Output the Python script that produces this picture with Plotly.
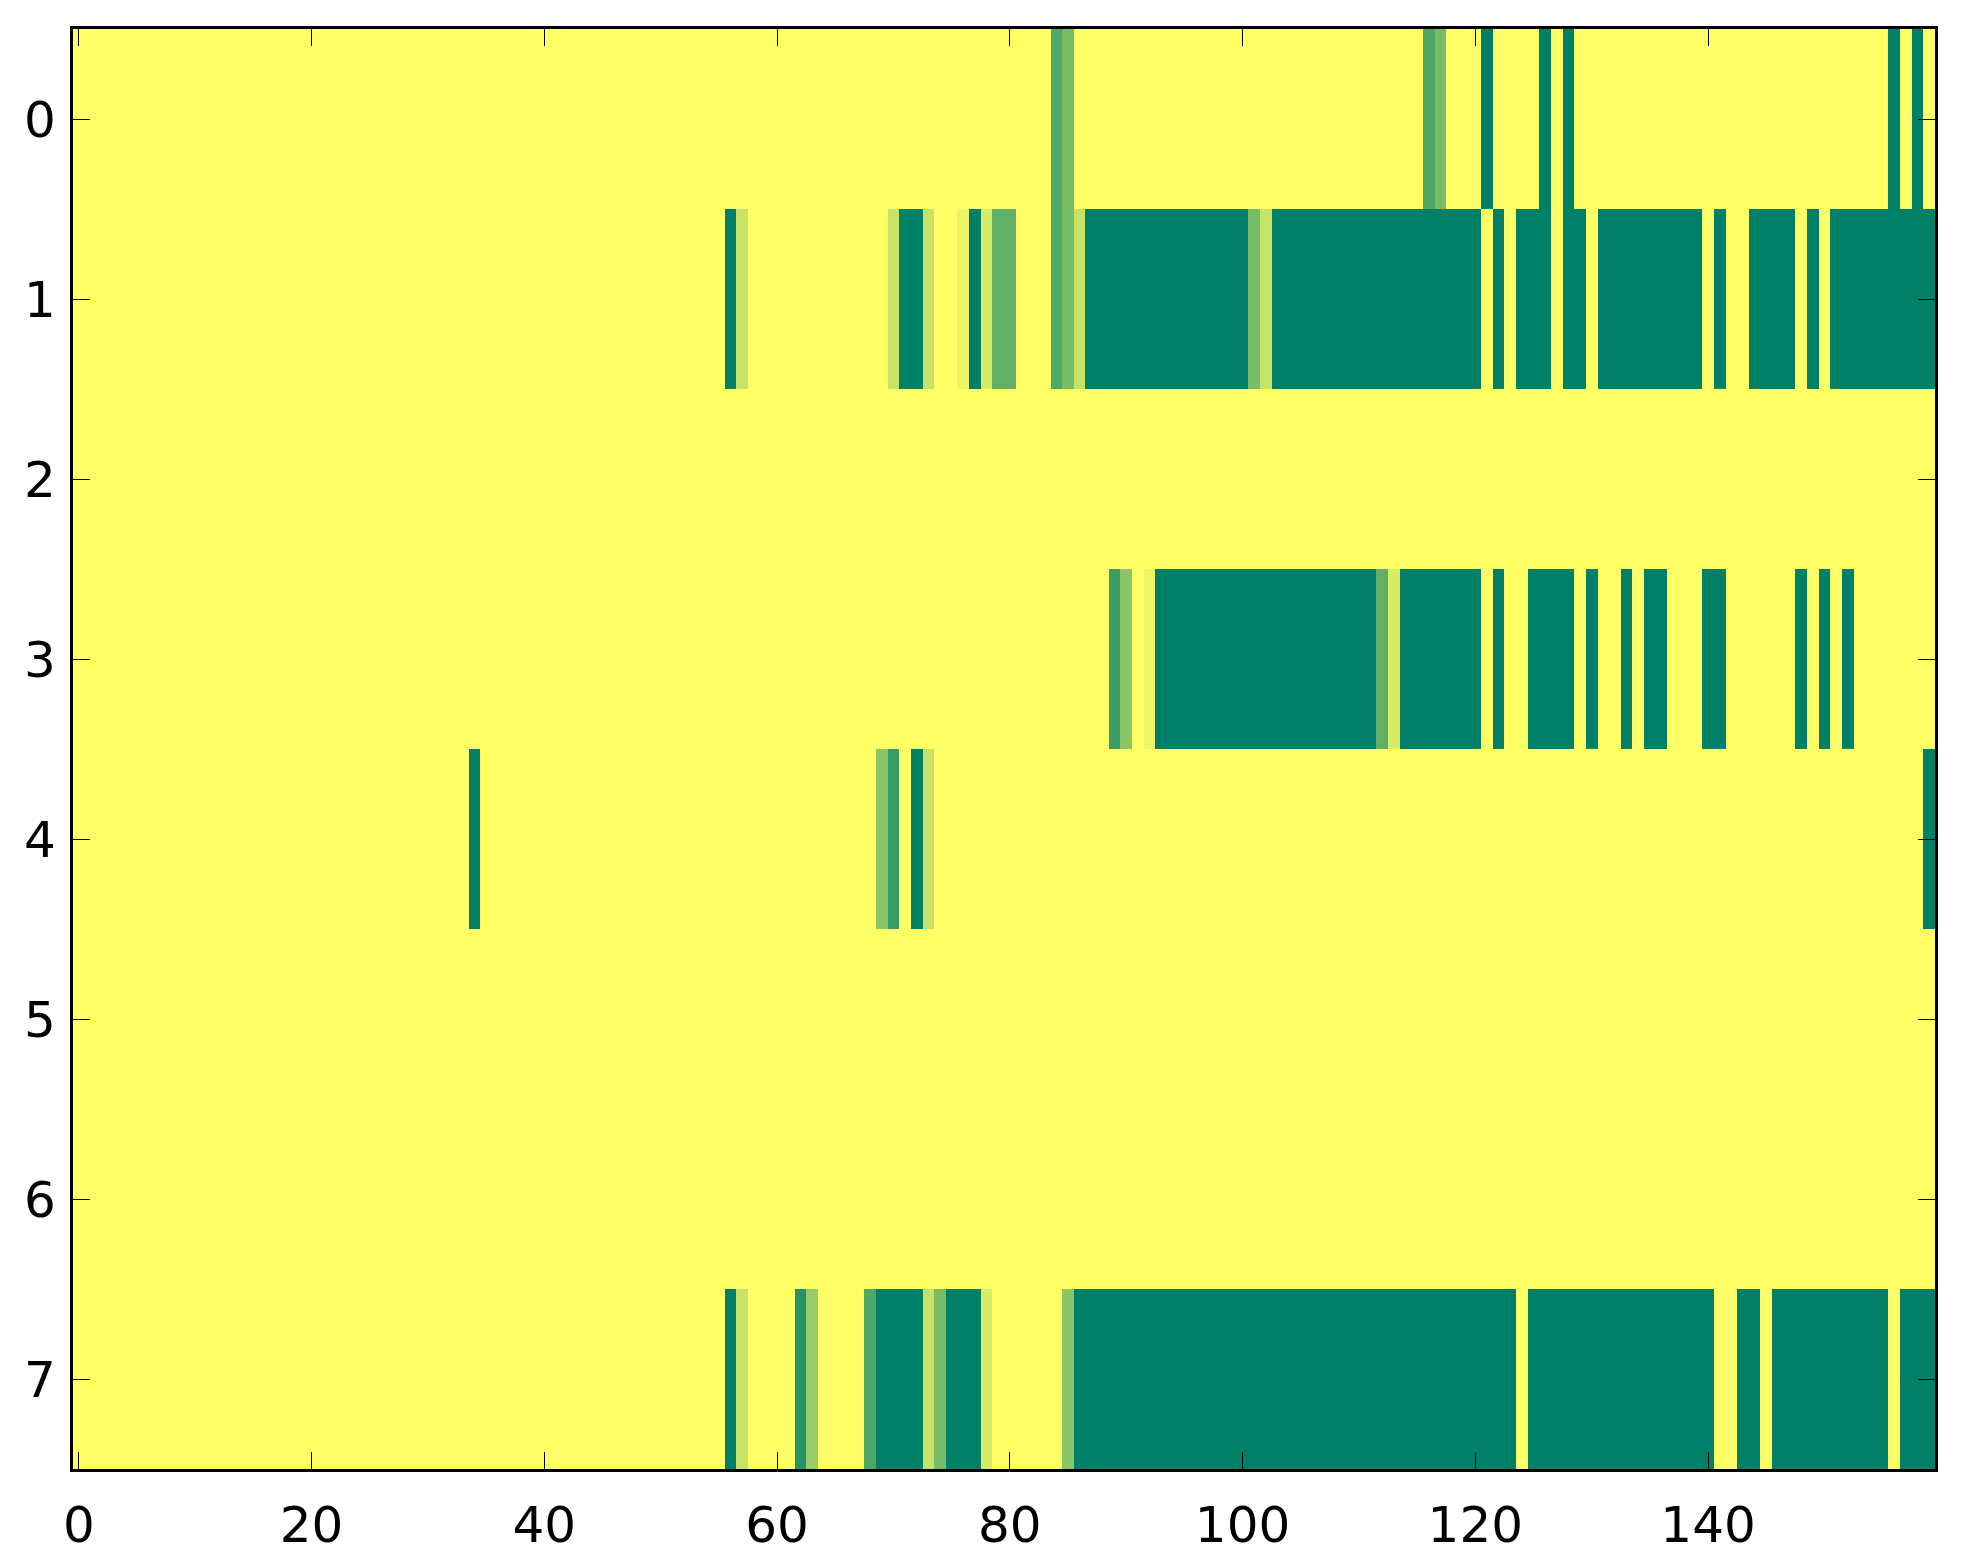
import numpy as np
import plotly.graph_objects as go

n_rows = 8
n_cols = 160

# fully dark cells (value 1.0) given as inclusive column runs, per row
row0_dark = [(121, 121), (126, 126), (128, 128), (156, 156), (158, 158)]
row0_part = {84: 0.69, 85: 0.53, 116: 0.69, 117: 0.53}

row1_dark = [(56, 56), (71, 72), (77, 77), (87, 100), (103, 120), (122, 122),
             (124, 126), (128, 129), (131, 139), (141, 141), (144, 147),
             (149, 149), (151, 159)]
row1_part = {57: 0.22, 70: 0.22, 73: 0.22, 76: 0.08, 78: 0.15, 79: 0.62,
             80: 0.62, 84: 0.69, 85: 0.53, 86: 0.22, 101: 0.53, 102: 0.22}

row2_dark = []
row2_part = {}

row3_dark = [(93, 111), (114, 120), (122, 122), (125, 128), (130, 130),
             (133, 133), (135, 136), (140, 141), (148, 148), (150, 150),
             (152, 152)]
row3_part = {89: 0.77, 90: 0.46, 92: 0.07, 112: 0.62, 113: 0.15}

row4_dark = [(34, 34), (72, 72), (159, 159)]
row4_part = {69: 0.46, 70: 0.77, 73: 0.22}

row5_dark = []
row5_part = {}

row6_dark = []
row6_part = {}

row7_dark = [(56, 56), (69, 72), (75, 77), (86, 123), (125, 140), (143, 144),
             (146, 155), (157, 159)]
row7_part = {57: 0.22, 62: 0.85, 63: 0.40, 68: 0.69, 73: 0.22, 74: 0.53,
             78: 0.15, 85: 0.46}

x_ticks = [0, 20, 40, 60, 80, 100, 120, 140]
y_ticks = [0, 1, 2, 3, 4, 5, 6, 7]

rows = [
    (row0_dark, row0_part), (row1_dark, row1_part), (row2_dark, row2_part),
    (row3_dark, row3_part), (row4_dark, row4_part), (row5_dark, row5_part),
    (row6_dark, row6_part), (row7_dark, row7_part),
]

z = np.zeros((n_rows, n_cols))
for r, (dark, part) in enumerate(rows):
    for a, b in dark:
        z[r, a:b + 1] = 1.0
    for c, v in part.items():
        z[r, c] = v

# matplotlib "summer_r"
summer_r = [[0.0, "rgb(255,255,102)"], [1.0, "rgb(0,128,102)"]]

fig = go.Figure(go.Heatmap(
    z=z,
    x=list(range(n_cols)),
    y=list(range(n_rows)),
    colorscale=summer_r,
    zmin=0, zmax=1,
    showscale=False,
    hoverongaps=False,
))

axis_style = dict(
    showline=True, linecolor="black", linewidth=3.2, mirror="ticks",
    ticks="inside", ticklen=17, tickwidth=1.4, tickcolor="black",
    showgrid=False, zeroline=False,
)

fig.update_xaxes(range=[-0.5, 159.5], tickvals=x_ticks, ticklabelstandoff=10,
                 **axis_style)
fig.update_yaxes(range=[7.5, -0.5], tickvals=y_ticks, ticklabelstandoff=4,
                 **axis_style)

# page body adds an 8px offset, margins compensate for it
fig.update_layout(
    width=1963, height=1564,
    margin=dict(l=65, r=36, t=21, b=103),
    paper_bgcolor="white", plot_bgcolor="white",
    font=dict(family="DejaVu Sans", size=50, color="black"),
)

fig.write_html("out.html")
